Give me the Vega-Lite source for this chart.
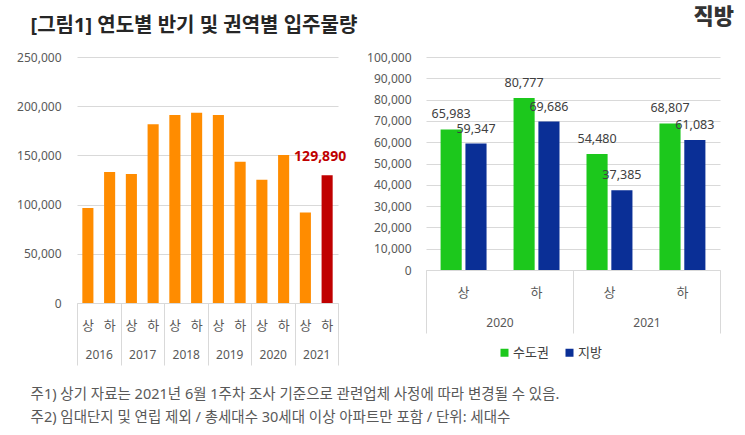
{
  "$schema": "https://vega.github.io/schema/vega-lite/v6.json",
  "background": "white",
  "padding": {"left": 16, "top": 6, "right": 5, "bottom": 5},
  "config": {
    "font": "'Noto Sans', 'Noto Sans CJK KR'",
    "view": {"stroke": null}
  },
  "title": {
    "text": ["주1) 상기 자료는 2021년 6월 1주차 조사 기준으로 관련업체 사정에 따라 변경될 수 있음.", "주2) 임대단지 및 연립 제외 / 총세대수 30세대 이상 아파트만 포함 / 단위: 세대수"],
    "orient": "bottom",
    "anchor": "start",
    "frame": "bounds",
    "fontSize": 14.5,
    "fontWeight": "normal",
    "color": "#595959",
    "lineHeight": 23,
    "dx": 14,
    "offset": 22
  },
  "bounds": "flush",
  "spacing": 88,
  "resolve": {"scale": {"color": "independent"}, "legend": {"color": "independent"}},
  "hconcat": [
    {
      "width": 261,
      "height": 246,
      "title": {"text": "[그림1] 연도별 반기 및 권역별 입주물량", "anchor": "start", "frame": "bounds", "fontSize": 20, "fontWeight": "bold", "color": "#262626", "dx": 14, "offset": 15},
      "data": {"values": [
        {"key": "2016 상", "year": "2016", "value": 96500, "hl": "n"},
        {"key": "2016 하", "year": "2016", "value": 133100, "hl": "n"},
        {"key": "2017 상", "year": "2017", "value": 131100, "hl": "n"},
        {"key": "2017 하", "year": "2017", "value": 181600, "hl": "n"},
        {"key": "2018 상", "year": "2018", "value": 191100, "hl": "n"},
        {"key": "2018 하", "year": "2018", "value": 193400, "hl": "n"},
        {"key": "2019 상", "year": "2019", "value": 191100, "hl": "n"},
        {"key": "2019 하", "year": "2019", "value": 143600, "hl": "n"},
        {"key": "2020 상", "year": "2020", "value": 125330, "hl": "n"},
        {"key": "2020 하", "year": "2020", "value": 150463, "hl": "n"},
        {"key": "2021 상", "year": "2021", "value": 91865, "hl": "n"},
        {"key": "2021 하", "year": "2021", "value": 129890, "hl": "y"}
      ]},
      "layer": [
        {
          "encoding": {
            "x": {"field": "key", "type": "nominal", "sort": null,
              "scale": {"paddingInner": 0.49, "paddingOuter": 0.245},
              "axis": {"orient": "bottom", "title": null, "labelExpr": "split(datum.label, ' ')[1]", "labelAngle": 0, "ticks": false, "domain": true, "domainColor": "#D9D9D9", "labelPadding": 16, "labelFontSize": 13, "labelColor": "#595959", "grid": false}},
            "y": {"field": "value", "type": "quantitative",
              "scale": {"domain": [0, 250000], "nice": false},
              "axis": {"title": null, "values": [0, 50000, 100000, 150000, 200000, 250000], "format": ",d", "grid": true, "gridColor": "#D9D9D9", "domain": false, "ticks": false, "labelPadding": 16, "labelFontSize": 12, "labelColor": "#595959"}}
          },
          "layer": [
            {
              "mark": {"type": "bar"},
              "encoding": {
                "color": {"field": "hl", "type": "nominal", "scale": {"domain": ["n", "y"], "range": ["#FF8C00", "#C00000"]}, "legend": null}
              }
            },
            {
              "transform": [{"filter": "datum.hl == 'y'"}],
              "mark": {"type": "text", "fontSize": 14, "fontWeight": "bold", "color": "#C00000", "baseline": "bottom", "dy": -11, "dx": -7},
              "encoding": {
                "text": {"field": "value", "type": "quantitative", "format": ",d"}
              }
            }
          ]
        },
        {
          "mark": {"type": "point", "opacity": 0},
          "encoding": {
            "x": {"field": "year", "type": "nominal", "sort": null,
              "scale": {"type": "band", "paddingInner": 0, "paddingOuter": 0},
              "axis": {"orient": "bottom", "title": null, "labelAngle": 0, "domain": false, "ticks": true, "tickBand": "extent", "tickSize": 62, "tickColor": "#D9D9D9", "labelPadding": -16, "labelFontSize": 12, "labelColor": "#595959", "grid": false}}
          }
        }
      ],
      "resolve": {"scale": {"x": "independent"}, "axis": {"x": "independent"}}
    },
    {
      "width": 294,
      "height": 213,
      "title": {"text": "직방", "anchor": "end", "frame": "group", "fontSize": 22, "fontWeight": 900, "color": "#333333", "dx": 14, "offset": 22},
      "data": {"values": [
        {"period": "2020 상", "year": "2020", "region": "수도권", "value": 65983},
        {"period": "2020 상", "year": "2020", "region": "지방", "value": 59347},
        {"period": "2020 하", "year": "2020", "region": "수도권", "value": 80777},
        {"period": "2020 하", "year": "2020", "region": "지방", "value": 69686},
        {"period": "2021 상", "year": "2021", "region": "수도권", "value": 54480},
        {"period": "2021 상", "year": "2021", "region": "지방", "value": 37385},
        {"period": "2021 하", "year": "2021", "region": "수도권", "value": 68807},
        {"period": "2021 하", "year": "2021", "region": "지방", "value": 61083}
      ]},
      "layer": [
        {
          "encoding": {
            "x": {"field": "period", "type": "nominal", "sort": null,
              "scale": {"paddingInner": 0.37, "paddingOuter": 0.2},
              "axis": {"orient": "bottom", "title": null, "labelExpr": "split(datum.label, ' ')[1]", "labelAngle": 0, "ticks": false, "domain": true, "domainColor": "#D9D9D9", "labelPadding": 16, "labelFontSize": 13, "labelColor": "#595959", "grid": false}},
            "xOffset": {"field": "region", "type": "nominal", "sort": ["수도권", "지방"], "scale": {"paddingInner": 0.15, "paddingOuter": 0}},
            "y": {"field": "value", "type": "quantitative",
              "scale": {"domain": [0, 100000], "nice": false},
              "axis": {"title": null, "values": [0, 10000, 20000, 30000, 40000, 50000, 60000, 70000, 80000, 90000, 100000], "format": ",d", "grid": true, "gridColor": "#D9D9D9", "domain": false, "ticks": false, "labelPadding": 15, "labelFontSize": 12, "labelColor": "#595959"}}
          },
          "layer": [
            {
              "mark": {"type": "bar"},
              "encoding": {
                "color": {"field": "region", "type": "nominal", "sort": ["수도권", "지방"],
                  "scale": {"domain": ["수도권", "지방"], "range": ["#1CC81C", "#0A2F96"]},
                  "legend": {"orient": "none", "legendX": 72, "legendY": 289, "direction": "horizontal", "title": null, "symbolType": "square", "symbolSize": 64, "symbolStrokeWidth": 0, "labelFontSize": 13, "labelColor": "#404040", "columnPadding": 14, "labelOffset": 2}}
              }
            },
            {
              "mark": {"type": "text", "fontSize": 12.5, "color": "#404040", "baseline": "bottom", "dy": -8},
              "encoding": {
                "text": {"field": "value", "type": "quantitative", "format": ",d"}
              }
            }
          ]
        },
        {
          "mark": {"type": "point", "opacity": 0},
          "encoding": {
            "x": {"field": "year", "type": "nominal", "sort": null,
              "scale": {"type": "band", "paddingInner": 0, "paddingOuter": 0},
              "axis": {"orient": "bottom", "title": null, "labelAngle": 0, "domain": false, "ticks": true, "tickBand": "extent", "tickSize": 63, "tickColor": "#D9D9D9", "labelPadding": -16, "labelFontSize": 12, "labelColor": "#595959", "grid": false}}
          }
        }
      ],
      "resolve": {"scale": {"x": "independent"}, "axis": {"x": "independent"}}
    }
  ]
}
